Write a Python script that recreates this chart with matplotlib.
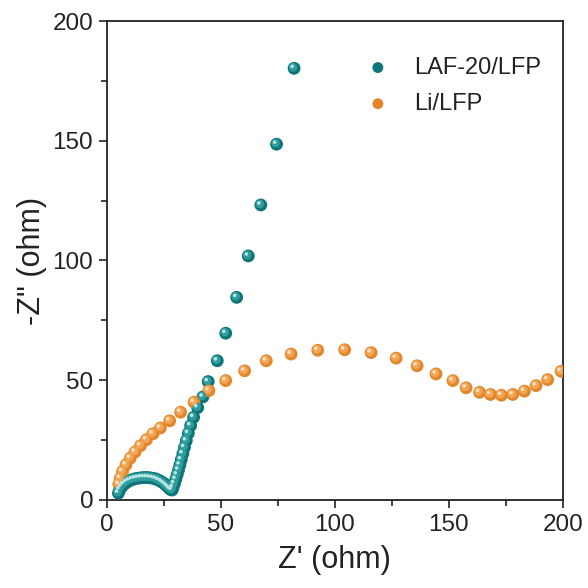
import matplotlib
matplotlib.use("Agg")
import matplotlib.pyplot as plt
from matplotlib.transforms import offset_copy
from matplotlib.ticker import MultipleLocator

plt.rcParams['font.family'] = ['Liberation Sans', 'DejaVu Sans']

# Nyquist data: Z' (real) and -Z'' (imaginary), ohm
laf_zre = [5.0, 5.6, 6.4, 7.4, 8.5, 9.7, 11.0, 12.3, 13.6, 14.9, 16.2, 17.5,
           18.8, 20.1, 21.4, 22.6, 23.8, 24.9, 25.9, 26.8, 27.5, 28.1, 28.6,
           29.0, 29.6, 30.2, 30.8, 31.4, 32.0, 32.6, 33.3, 34.0, 34.8, 35.7,
           36.7, 38.0, 39.8, 42.1, 44.4, 48.4, 52.1, 56.9, 62.0, 67.5, 74.4,
           82.1]
laf_zim = [2.8, 4.2, 5.4, 6.4, 7.2, 7.9, 8.4, 8.8, 9.0, 9.2, 9.3, 9.3,
           9.2, 9.0, 8.7, 8.2, 7.6, 6.9, 6.1, 5.3, 4.6, 4.2, 4.1,
           5.2, 6.8, 8.6, 10.5, 12.5, 14.6, 16.8, 19.3, 21.9, 24.7, 27.8,
           31.0, 34.5, 38.5, 43.0, 49.4, 58.1, 69.6, 84.6, 101.9, 123.2, 148.6,
           180.3]

li_zre = [5.2, 5.8, 6.8, 8.3, 10.2, 12.3, 14.7, 17.3, 20.2, 23.4, 27.5,
          32.3, 38.2, 44.7, 52.1, 60.4, 69.9, 80.8, 92.5, 104.3, 115.9, 126.9,
          136.1, 144.4, 151.8, 157.6, 163.5, 168.3, 173.1, 178.1, 183.2, 188.3,
          193.4, 199.3]
li_zim = [6.5, 9.0, 11.8, 14.6, 17.4, 20.0, 22.6, 25.1, 27.6, 30.0, 33.0,
          36.6, 40.8, 45.6, 49.8, 53.9, 58.1, 60.9, 62.5, 62.7, 61.5, 59.2,
          56.0, 52.6, 49.8, 46.8, 44.9, 44.0, 43.7, 44.0, 45.4, 47.7,
          50.2, 53.7]

series = [
    ("LAF-20/LFP", laf_zre, laf_zim, "#0d7477", "#2f9d9d", "#b8e6e3"),
    ("Li/LFP", li_zre, li_zim, "#e2872c", "#f2a555", "#fde0bc"),
]

fig = plt.figure(figsize=(5.88, 5.88), dpi=100)
ax = fig.add_axes([0.182, 0.150, 0.775, 0.814])

ms = 85  # marker area (pt^2)
for label, x, y, dark, mid, light in series:
    # shaded "sphere" markers: dark body, lighter core, small highlight
    ax.scatter(x, y, s=ms, color=dark, edgecolors='none', zorder=3, label=label)
    t1 = offset_copy(ax.transData, fig=fig, x=-0.7, y=0.7, units='points')
    ax.scatter(x, y, s=ms * 0.45, color=mid, edgecolors='none', zorder=4,
               transform=t1)
    t2 = offset_copy(ax.transData, fig=fig, x=-1.4, y=1.4, units='points')
    ax.scatter(x, y, s=ms * 0.08, color=light, edgecolors='none', zorder=5,
               transform=t2)

ax.set_xlim(0, 200)
ax.set_ylim(0, 200)
ax.xaxis.set_major_locator(MultipleLocator(50))
ax.xaxis.set_minor_locator(MultipleLocator(25))
ax.yaxis.set_major_locator(MultipleLocator(50))
ax.yaxis.set_minor_locator(MultipleLocator(25))

for sp in ax.spines.values():
    sp.set_linewidth(1.3)
    sp.set_color('#222222')

ax.tick_params(which='both', direction='out', top=False, right=False,
               width=1.2, color='#222222', labelsize=17.5, labelcolor='#222222')
ax.tick_params(which='major', length=6, pad=4)
ax.tick_params(which='minor', length=4)

ax.set_xlabel("Z' (ohm)", fontsize=22, color='#222222', labelpad=7)
ax.set_ylabel('-Z" (ohm)', fontsize=22, color='#222222', labelpad=4)

leg = ax.legend(loc='upper right', bbox_to_anchor=(1.0, 0.97), frameon=False,
                fontsize=17, handletextpad=0.55, labelspacing=0.6,
                scatterpoints=1, markerscale=0.85)
for txt in leg.get_texts():
    txt.set_color('#222222')

fig.savefig("out.png", dpi=100, facecolor='white')
